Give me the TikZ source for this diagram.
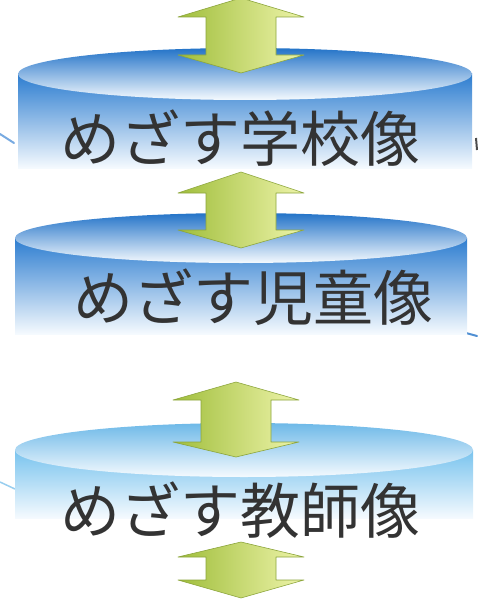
\documentclass[tikz,border=0pt]{standalone}
\usepackage{fontspec}
\newfontfamily\jpfont{Noto Sans CJK JP}
\definecolor{arrowdark}{RGB}{160,190,60}
\definecolor{arrowlight}{RGB}{238,244,170}
\definecolor{arrowline}{RGB}{140,165,60}
\definecolor{rimA}{RGB}{35,115,200}
\definecolor{midA}{RGB}{130,188,238}
\definecolor{bodyA}{RGB}{45,125,208}
\definecolor{bodymidA}{RGB}{115,178,234}
\definecolor{rimC}{RGB}{110,185,232}
\definecolor{bodyC}{RGB}{120,195,238}
\definecolor{fadeW}{RGB}{245,250,254}
\definecolor{fragblue}{RGB}{120,170,225}
\newcommand\dblarrow[5]{%
  \draw[arrowfill] (#1,#2) -- (#1+63,#3) -- (#1+35,#3) -- (#1+35,#4) -- (#1+63,#4)
    -- (#1,#5) -- (#1-63,#4) -- (#1-35,#4) -- (#1-35,#3) -- (#1-63,#3) -- cycle;}
\tikzset{
  arrowfill/.style={left color=arrowdark, right color=arrowlight, draw=arrowline, line width=0.6pt, line join=round},
  jptext/.style={font=\jpfont\fontsize{60}{64}\selectfont, text=black!80, inner sep=0pt, anchor=center},
  bodyblue/.style={top color=bodyA, middle color=bodymidA, bottom color=fadeW},
  topblue/.style={top color=rimA, middle color=midA, bottom color=fadeW},
  bodypale/.style={top color=bodyC, bottom color=fadeW},
  toppale/.style={top color=rimC, bottom color=fadeW},
  frag/.style={draw=fragblue, line width=2pt, line cap=round}
}
\begin{document}
\begin{tikzpicture}[x=1pt,y=-1pt]
\useasboundingbox (0,0) rectangle (477,607);
% edge fragments
\draw[frag] (0,134) -- (14,143);
\draw[draw=black!70, line width=2pt] (476,138) -- (477,150);
\draw[frag, draw=rimA!80] (466,333) -- (477,336);
\draw[frag, draw=rimC!70, line width=1.5pt] (0,482) -- (15,489);
% disc 1
\shade[bodyblue] (18,74) rectangle (472,168);
\shade[topblue] (245,74) ellipse [x radius=227, y radius=26];
% disc 2
\shade[bodyblue] (15,238) rectangle (467,334);
\shade[topblue] (241,238) ellipse [x radius=226, y radius=25];
% disc 3
\shade[bodypale] (15,450) rectangle (473,518);
\shade[toppale] (244,450) ellipse [x radius=229, y radius=27];
% arrows
\dblarrow{241}{-2}{17}{55}{73}
\dblarrow{241}{172}{193}{230}{248}
\dblarrow{236}{382}{400}{442}{457}
\dblarrow{241}{542}{557}{580}{598}
% texts
\node[jptext] (t1) at (240,138) {めざす学校像};
\node[jptext] (t2) at (253,297) {めざす児童像};
\node[jptext] (t3) at (240,510) {めざす教師像};
\end{tikzpicture}
\end{document}
